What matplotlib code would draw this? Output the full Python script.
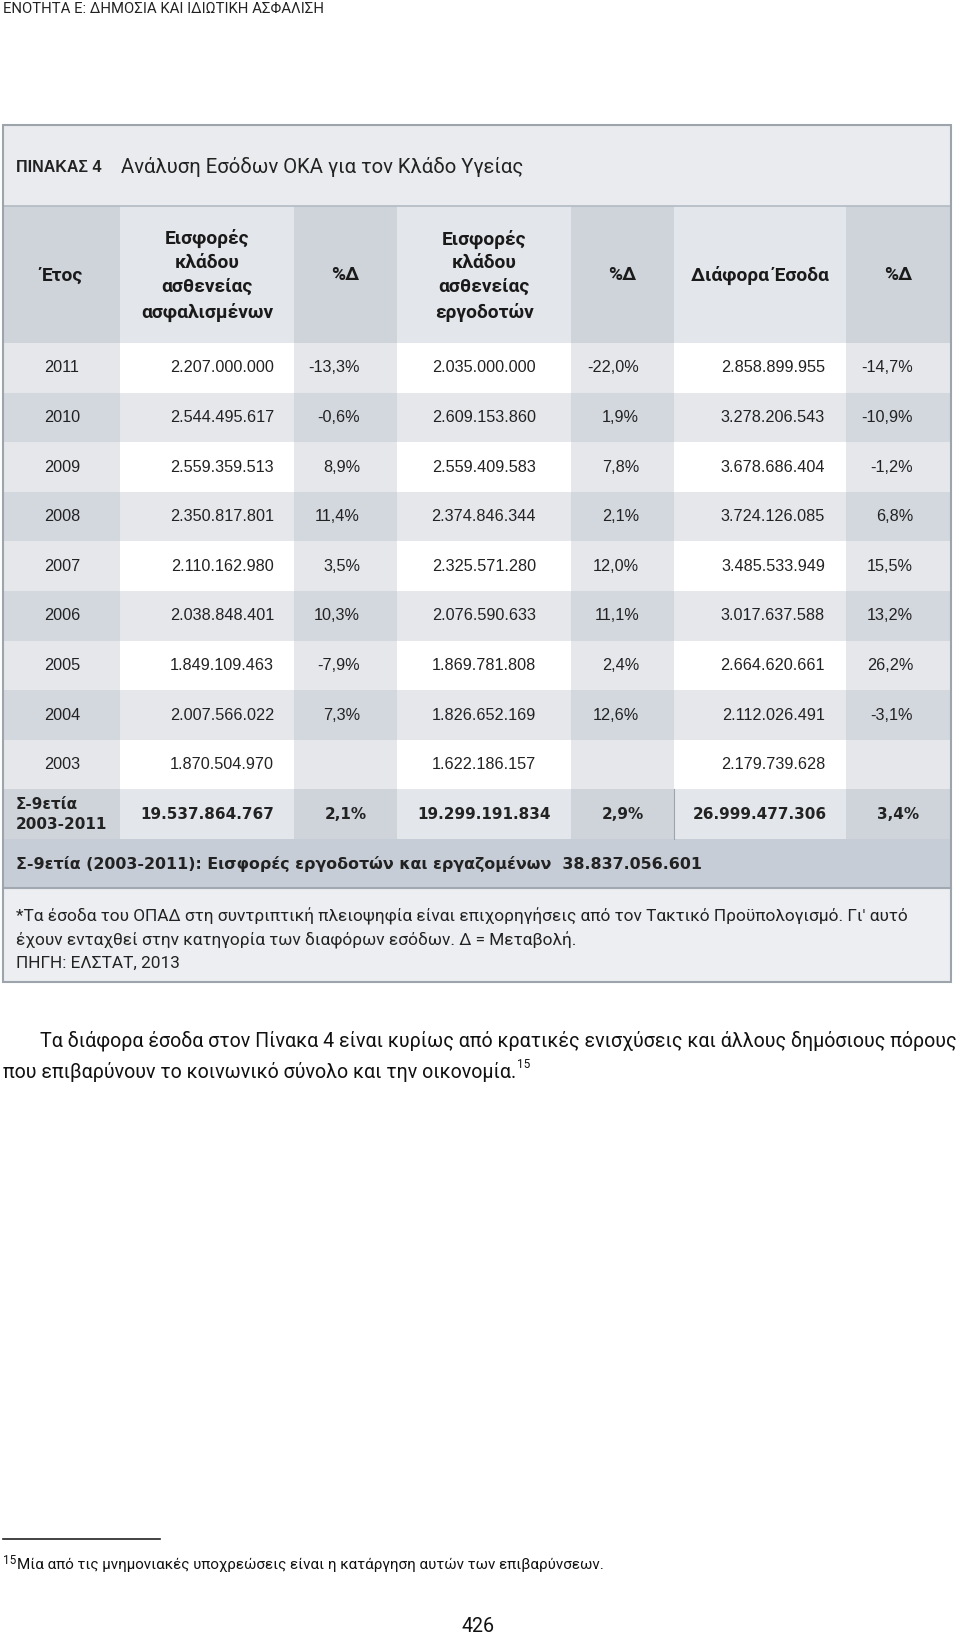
"""
Πίνακας 4: Ανάλυση Εσόδων ΟΚΑ για τον Κλάδο Υγείας (σελίδα 426).
"""
import matplotlib
matplotlib.use("Agg")
import matplotlib.pyplot as plt
from matplotlib.patches import Rectangle

# ---- δεδομένα ----
years = [2011, 2010, 2009, 2008, 2007, 2006, 2005, 2004, 2003]
insured = [2207000000, 2544495617, 2559359513, 2350817801, 2110162980,
           2038848401, 1849109463, 2007566022, 1870504970]
insured_pct = [-13.3, -0.6, 8.9, 11.4, 3.5, 10.3, -7.9, 7.3, None]
employers = [2035000000, 2609153860, 2559409583, 2374846344, 2325571280,
             2076590633, 1869781808, 1826652169, 1622186157]
employers_pct = [-22.0, 1.9, 7.8, 2.1, 12.0, 11.1, 2.4, 12.6, None]
other = [2858899955, 3278206543, 3678686404, 3724126085, 3485533949,
         3017637588, 2664620661, 2112026491, 2179739628]
other_pct = [-14.7, -10.9, -1.2, 6.8, 15.5, 13.2, 26.2, -3.1, None]

totals = [19537864767, 19299191834, 26999477306]
totals_pct = [2.1, 2.9, 3.4]
grand_total = 38837056601

headers = ["Έτος", "Εισφορές\nκλάδου\nασθενείας\nασφαλισμένων", "%Δ",
           "Εισφορές\nκλάδου\nασθενείας\nεργοδοτών", "%Δ", "Διάφορα Έσοδα", "%Δ"]


def fmt_num(v):
    return f"{v:,}".replace(",", ".")


def fmt_pct(p):
    if p is None:
        return ""
    return f"{p:.1f}".replace(".", ",") + "%"


NARROW = ["Roboto", "DejaVu Sans"]
NUMF = ["Liberation Sans", "DejaVu Sans"]
WIDE = ["DejaVu Sans"]

fig = plt.figure(figsize=(9.6, 16.37), dpi=100)
ax = fig.add_axes([0, 0, 1, 1])
ax.set_xlim(0, 960)
ax.set_ylim(1637, 0)
ax.axis("off")
renderer = fig.canvas.get_renderer()


def fit(x, y, s, width, ha="left", va="center", **kw):
    t = ax.text(x, y, s, fontsize=12, ha=ha, va=va, **kw)
    bb = t.get_window_extent(renderer)
    t.set_fontsize(12 * width / bb.width)
    return t


def right_end(t):
    # δεξί άκρο κειμένου σε συντεταγμένες δεδομένων
    bb = t.get_window_extent(renderer)
    return ax.transData.inverted().transform((bb.x1, bb.y1))[0]


# ---- γεωμετρία πίνακα ----
col_x = [3, 120, 294, 397, 571, 674, 846, 951]
top, title_b, head_b = 125, 206, 343
row_h = 49.6
sum_t = head_b + row_h * len(years)
sum_b = sum_t + 50
tot_b = sum_b + 49
note_b = tot_b + 94

c_title = "#e9ebee"
c_dark = "#cfd4db"
c_mid = "#e3e6ea"
c_light = "#e5e7eb"
c_border = "#9ea4ac"


def cell(x0, x1, y0, y1, color):
    ax.add_patch(Rectangle((x0, y0), x1 - x0, y1 - y0, facecolor=color,
                           edgecolor="none", zorder=1))


# τίτλος
cell(col_x[0], col_x[-1], top, title_b, c_title)
ax.text(16, 167, "ΠΙΝΑΚΑΣ 4", fontsize=11.5, fontweight="bold",
        family=NUMF, va="center", color="#222")
fit(121, 167, "Ανάλυση Εσόδων ΟΚΑ για τον Κλάδο Υγείας", 401,
    family=NARROW, color="#222")
ax.plot([col_x[0], col_x[-1]], [title_b, title_b], color="#b4bac2", lw=1.2, zorder=3)

# κεφαλίδα
for j in range(7):
    color = c_dark if j in (0, 2, 4, 6) else c_mid
    cell(col_x[j], col_x[j + 1], title_b, head_b, color)
    ax.text((col_x[j] + col_x[j + 1]) / 2, (title_b + head_b) / 2 + 1, headers[j],
            ha="center", va="center", fontsize=13.8, fontweight="bold",
            family=NARROW, linespacing=1.42, color="#1a1a1a", zorder=4)

# γραμμές δεδομένων
val_right = [274, 536, 825]
pct_right = [360, 639, 913]
for i, yr in enumerate(years):
    y0 = head_b + i * row_h
    y1 = y0 + row_h
    odd = i % 2 == 0
    for j in range(7):
        if odd:
            color = "#ffffff" if j in (1, 3, 5) else c_light
        else:
            color = c_light if j in (1, 3, 5) else "#d3d7de"
        cell(col_x[j], col_x[j + 1], y0, y1, color)
    yc = (y0 + y1) / 2
    ax.text(62, yc, str(yr), ha="center", va="center", fontsize=11.7,
            family=NUMF, color="#222", zorder=4)
    vals = [insured[i], employers[i], other[i]]
    pcts = [insured_pct[i], employers_pct[i], other_pct[i]]
    for k in range(3):
        ax.text(val_right[k], yc, fmt_num(vals[k]), ha="right", va="center",
                fontsize=11.7, family=NUMF, color="#222", zorder=4)
        ax.text(pct_right[k], yc, fmt_pct(pcts[k]), ha="right", va="center",
                fontsize=11.7, family=NUMF, color="#222", zorder=4)

# γραμμή αθροίσματος
for j in range(7):
    color = c_dark if j in (0, 2, 4, 6) else c_mid
    cell(col_x[j], col_x[j + 1], sum_t, sum_b, color)
ax.plot([col_x[5], col_x[5]], [sum_t, sum_b], color="#9ea4ac", lw=0.8, zorder=3)
yc = (sum_t + sum_b) / 2
ax.text(16, yc, "Σ-9ετία\n2003-2011", ha="left", va="center", fontsize=11,
        fontweight="bold", family=WIDE, linespacing=1.45, color="#222", zorder=4)
for k in range(3):
    xc = (col_x[2 * k + 1] + col_x[2 * k + 2]) / 2
    ax.text(xc, yc, fmt_num(totals[k]), ha="center", va="center", fontsize=11,
            fontweight="bold", family=WIDE, color="#222", zorder=4)
    xc = (col_x[2 * k + 2] + col_x[2 * k + 3]) / 2
    ax.text(xc, yc, fmt_pct(totals_pct[k]), ha="center", va="center",
            fontsize=11, fontweight="bold", family=WIDE, color="#222", zorder=4)

# συνολικό άθροισμα
cell(col_x[0], col_x[-1], sum_b, tot_b, "#c7cdd6")
fit(16, (sum_b + tot_b) / 2,
    "Σ-9ετία (2003-2011): Εισφορές εργοδοτών και εργαζομένων  " + fmt_num(grand_total),
    684, fontweight="bold", family=WIDE, color="#222", zorder=4)
ax.plot([col_x[0], col_x[-1]], [tot_b, tot_b], color="#a2a8b0", lw=1.5, zorder=3)

# σημειώσεις
cell(col_x[0], col_x[-1], tot_b, note_b, "#eceef1")
note1 = ("*Τα έσοδα του ΟΠΑΔ στη συντριπτική πλειοψηφία είναι επιχορηγήσεις "
         "από τον Τακτικό Προϋπολογισμό. Γι' αυτό")
t = fit(16, tot_b + 28, note1, 892, family=NARROW, color="#222", zorder=4)
fs_note = t.get_fontsize()
ax.text(16, tot_b + 52, "έχουν ενταχθεί στην κατηγορία των διαφόρων εσόδων. Δ = Μεταβολή.",
        fontsize=fs_note, family=NARROW, va="center", color="#222", zorder=4)
ax.text(16, tot_b + 75, "ΠΗΓΗ: ΕΛΣΤΑΤ, 2013", fontsize=fs_note, family=NARROW,
        va="center", color="#222", zorder=4)

# περίγραμμα
ax.add_patch(Rectangle((col_x[0], top), col_x[-1] - col_x[0], note_b - top,
                       facecolor="none", edgecolor=c_border, lw=1.5, zorder=5))

# κείμενο σελίδας
fit(3, 9, "ΕΝΟΤΗΤΑ Ε: ΔΗΜΟΣΙΑ ΚΑΙ ΙΔΙΩΤΙΚΗ ΑΣΦΑΛΙΣΗ", 319, family=NARROW, color="#222")
t = fit(40, 1041, "Τα διάφορα έσοδα στον Πίνακα 4 είναι κυρίως από κρατικές "
        "ενισχύσεις και άλλους δημόσιους πόρους", 912, family=NARROW, color="#111")
fs_par = t.get_fontsize()
t2 = ax.text(3, 1072, "που επιβαρύνουν το κοινωνικό σύνολο και την οικονομία.",
             fontsize=fs_par, family=NARROW, va="center", color="#111")
ax.text(right_end(t2) + 1, 1065, "15", fontsize=fs_par * 0.6, family=NARROW,
        va="center", color="#111")

ax.plot([3, 160], [1539, 1539], color="#222", lw=1.2)
ax.text(3, 1561, "15", fontsize=fs_par * 0.6, family=NARROW, va="center", color="#111")
fit(17, 1565, "Μία από τις μνημονιακές υποχρεώσεις είναι η κατάργηση αυτών των επιβαρύνσεων.",
    584, family=NARROW, color="#111")
ax.text(478, 1626, "426", fontsize=fs_par, family=NARROW, ha="center", va="center",
        color="#111")

fig.savefig("out.png", dpi=100)
